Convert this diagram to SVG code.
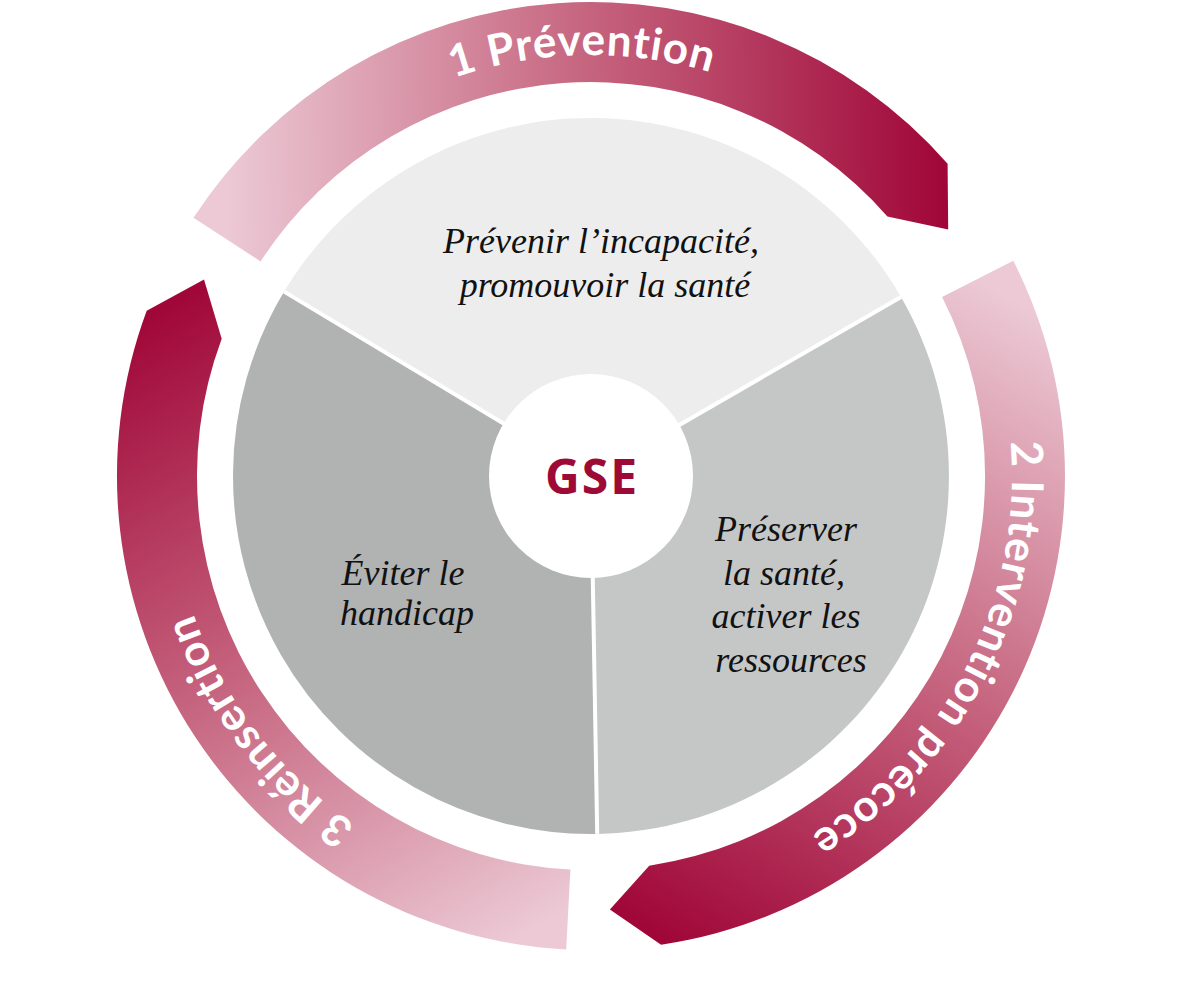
<svg xmlns="http://www.w3.org/2000/svg" xmlns:xlink="http://www.w3.org/1999/xlink" width="1182" height="981" viewBox="0 0 1182 981">
<style>
.lbl{font-family:Lato,"Open Sans","DejaVu Sans",sans-serif;font-weight:700;font-size:44px;fill:#ffffff;letter-spacing:1px}
.it{font-family:"Liberation Serif","DejaVu Serif",serif;font-style:italic;font-size:36px;fill:#111111;text-anchor:middle}
.gse{font-family:"Open Sans",Lato,"DejaVu Sans",sans-serif;font-weight:700;font-size:48px;fill:#9c0a35;text-anchor:middle;letter-spacing:2px}
.sep{stroke:#ffffff;stroke-width:4;fill:none}
</style>
<defs>
<linearGradient id="g1" gradientUnits="userSpaceOnUse" x1="227" y1="240" x2="948" y2="230">
<stop offset="0" stop-color="#ecc9d5"/><stop offset="0.5" stop-color="#c6657f"/><stop offset="1" stop-color="#a00638"/>
</linearGradient>
<linearGradient id="g2" gradientUnits="userSpaceOnUse" x1="978" y1="279" x2="610" y2="910">
<stop offset="0" stop-color="#ecc9d5"/><stop offset="0.5" stop-color="#c6657f"/><stop offset="1" stop-color="#a00638"/>
</linearGradient>
<linearGradient id="g3" gradientUnits="userSpaceOnUse" x1="568" y1="909" x2="204" y2="280">
<stop offset="0" stop-color="#ecc9d5"/><stop offset="0.5" stop-color="#c6657f"/><stop offset="1" stop-color="#a00638"/>
</linearGradient>
<path id="tp1" d="M175.0,411.6 A421,421 0 0 1 1004.0,394.2"/>
<path id="tp2" d="M844.4,139.8 A421,421 0 0 1 467.9,878.6"/>
<path id="tp3" d="M785.4,849.4 A421,421 0 0 1 280.6,191.6"/>
</defs>

<g id="sectors">
<path id="sector-top" d="M591,476 L284.1,291.6 A358,358 0 0 1 901,297 Z" fill="#ededed"/>
<path id="sector-right" d="M591,476 L901,297 A358,358 0 0 1 597.2,833.9 Z" fill="#c5c6c6"/>
<path id="sector-left" d="M591,476 L597.2,833.9 A358,358 0 0 1 284.1,291.6 Z" fill="#b1b2b2"/>
</g>
<g id="connectors">
<line class="sep" x1="591" y1="476" x2="284.1" y2="291.6"/>
<line class="sep" x1="591" y1="476" x2="901" y2="297"/>
<line class="sep" x1="591" y1="476" x2="597.2" y2="833.9"/>
</g>
<g id="center">
<circle cx="591" cy="476" r="102" fill="#ffffff"/>
<text class="gse" x="592" y="494">GSE</text>
</g>

<g id="text-top">
<text class="it" x="601" y="253">Prévenir l’incapacité,</text>
<text class="it" x="605" y="297">promouvoir la santé</text>
</g>
<g id="text-right">
<text class="it" x="786" y="541">Préserver</text>
<text class="it" x="784" y="585">la santé,</text>
<text class="it" x="786" y="628">activer les</text>
<text class="it" x="791" y="672">ressources</text>
</g>
<g id="text-left">
<text class="it" x="403" y="585">Éviter le</text>
<text class="it" x="407" y="625">handicap</text>
</g>

<g id="arc-prevention">
<path d="M193.5,217.8 A474,474 0 0 1 947.6,163.8 L948.2,229.6 L887.4,216.5 A394,394 0 0 0 260.6,261.4 Z" fill="url(#g1)"/>
<text class="lbl"><textPath xlink:href="#tp1" href="#tp1" startOffset="50%" text-anchor="middle">1 Prévention</textPath></text>
</g>
<g id="arc-intervention">
<path d="M1013.3,260.8 A474,474 0 0 1 661.1,944.8 L609.9,909.6 L649.2,865.7 A394,394 0 0 0 942.1,297.1 Z" fill="url(#g2)"/>
<text class="lbl"><textPath xlink:href="#tp2" href="#tp2" startOffset="50%" text-anchor="middle">2 Intervention précoce</textPath></text>
</g>
<g id="arc-reinsertion">
<path d="M566.2,949.4 A474,474 0 0 1 146.7,310.8 L204.0,279.6 L221.7,338.7 A394,394 0 0 0 570.4,869.5 Z" fill="url(#g3)"/>
<text class="lbl"><textPath xlink:href="#tp3" href="#tp3" startOffset="50%" text-anchor="middle">3 Réinsertion</textPath></text>
</g>
</svg>
